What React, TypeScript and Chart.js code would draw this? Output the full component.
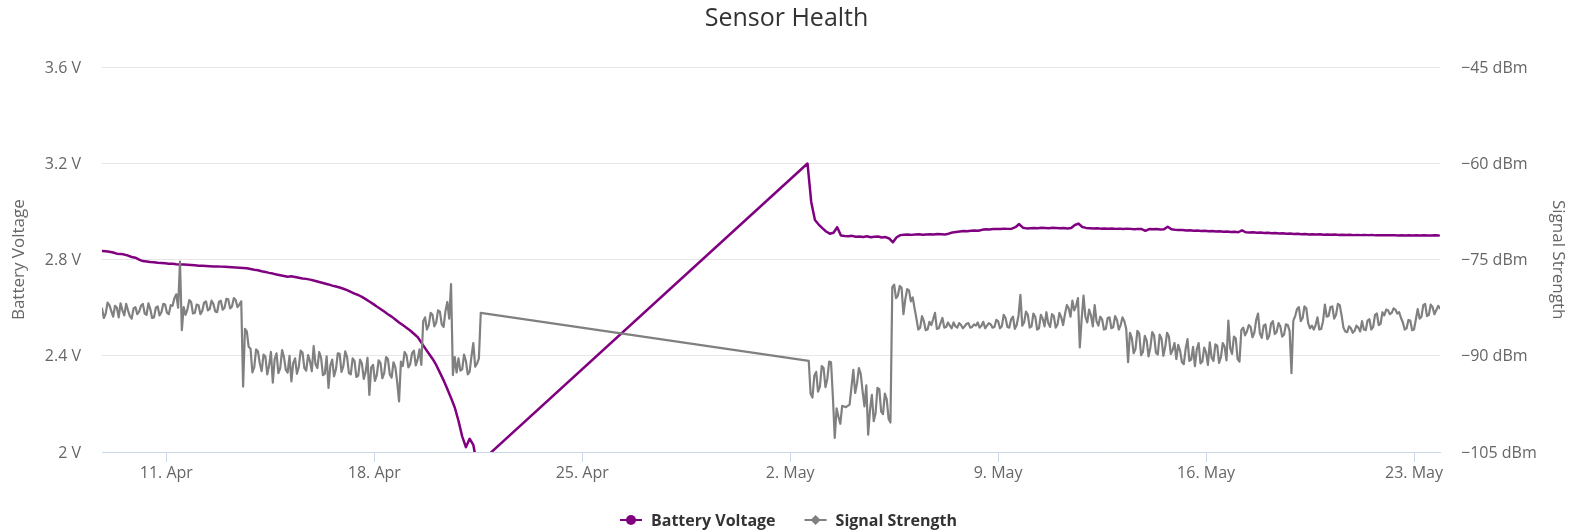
import React, { useEffect, useRef } from 'react';
import { Chart, registerables } from 'chart.js';

Chart.register(...registerables);

const CHART_TITLE = 'Sensor Health';
const HOUR_MS = 3600 * 1000;
const BATTERY_SAMPLE_HOURS = 3;
const SIGNAL_SAMPLE_HOURS = 1.5;

// Battery voltage (V), sampled every 3 hours
const batteryStart1 = Date.UTC(2023, 3, 8, 20);
const batteryValues1 = [
  2.836, 2.835, 2.833, 2.830, 2.825, 2.824, 2.821, 2.817, 2.811, 2.808,
  2.800, 2.794, 2.792, 2.790, 2.789, 2.787, 2.786, 2.785, 2.783, 2.783,
  2.781, 2.780, 2.780, 2.779, 2.778, 2.777, 2.775, 2.775, 2.774, 2.773,
  2.772, 2.772, 2.771, 2.770, 2.769, 2.768, 2.767, 2.766, 2.765, 2.764,
  2.761, 2.758, 2.756, 2.752, 2.749, 2.745, 2.742, 2.738, 2.735, 2.732,
  2.729, 2.731, 2.728, 2.725, 2.722, 2.720, 2.717, 2.713, 2.709, 2.705,
  2.701, 2.697, 2.692, 2.688, 2.684, 2.679, 2.673, 2.666, 2.659, 2.653,
  2.645, 2.636, 2.626, 2.616, 2.605, 2.595, 2.584, 2.573, 2.563, 2.551,
  2.539, 2.528, 2.517, 2.505, 2.492, 2.478, 2.455, 2.432, 2.410, 2.388,
  2.362, 2.330, 2.298, 2.262, 2.225, 2.185, 2.130, 2.065, 2.020, 2.055,
  2.030, 1.945,
];
const batteryStart2 = Date.UTC(2023, 4, 2, 14);
const batteryValues2 = [
  3.200, 3.040, 2.965, 2.946, 2.931, 2.917, 2.908, 2.912, 2.935, 2.900,
  2.898, 2.897, 2.899, 2.895, 2.896, 2.894, 2.897, 2.893, 2.895, 2.896,
  2.892, 2.894, 2.888, 2.872, 2.893, 2.902, 2.904, 2.905, 2.903, 2.905,
  2.906, 2.904, 2.905, 2.906, 2.905, 2.907, 2.906, 2.905, 2.908, 2.913,
  2.915, 2.917, 2.919, 2.918, 2.920, 2.921, 2.920, 2.924, 2.926, 2.925,
  2.927, 2.928, 2.927, 2.929, 2.928, 2.929, 2.935, 2.948, 2.933, 2.930,
  2.931, 2.932, 2.931, 2.933, 2.932, 2.931, 2.933, 2.932, 2.931, 2.932,
  2.930, 2.932, 2.944, 2.950, 2.936, 2.932, 2.931, 2.930, 2.931, 2.929,
  2.930, 2.929, 2.930, 2.928, 2.929, 2.927, 2.929, 2.928, 2.926, 2.928,
  2.927, 2.920, 2.927, 2.926, 2.927, 2.925, 2.926, 2.937, 2.926, 2.924,
  2.923, 2.923, 2.921, 2.922, 2.920, 2.921, 2.919, 2.920, 2.918, 2.919,
  2.917, 2.918, 2.916, 2.917, 2.915, 2.916, 2.914, 2.922, 2.914, 2.913,
  2.914, 2.912, 2.913, 2.911, 2.912, 2.910, 2.911, 2.909, 2.910, 2.908,
  2.909, 2.907, 2.908, 2.906, 2.907, 2.905, 2.906, 2.905, 2.906, 2.904,
  2.905, 2.904, 2.905, 2.903, 2.904, 2.903, 2.904, 2.902, 2.903, 2.902,
  2.903, 2.902, 2.903, 2.901, 2.902, 2.901, 2.902, 2.901, 2.902, 2.900,
  2.901, 2.900, 2.901, 2.900, 2.901, 2.900, 2.901, 2.900, 2.900, 2.901,
  2.900,
];

// Signal strength (dBm), sampled every 1.5 hours
const signalStart1 = Date.UTC(2023, 3, 8, 20);
const signalValues1 = [
  -82.6, -84.1, -83.4, -81.7, -82.1, -83.0, -83.9, -82.2, -82.5, -84.0,
  -81.8, -82.9, -83.7, -81.9, -82.9, -83.8, -84.2, -82.6, -82.4, -83.5,
  -83.1, -82.2, -81.9, -83.4, -83.6, -81.8, -82.7, -84.1, -84.0, -82.5,
  -82.3, -83.7, -83.2, -81.9, -82.0, -83.3, -83.5, -82.1, -82.2, -81.0,
  -80.4, -82.5, -75.3, -86.0, -82.4, -83.6,
  -82.8, -81.3, -81.6, -83.4, -83.3, -82.0, -82.1, -83.5, -83.0, -81.7,
  -81.5, -82.9, -82.7, -81.4, -81.9, -83.1, -83.2, -81.6, -81.4, -82.8,
  -82.5, -81.1, -81.2, -82.6, -82.3, -81.0, -81.3, -82.4, -82.0, -81.5,
  -94.8, -85.8, -86.2, -88.6,
  -88.9, -92.6, -91.8, -89.0, -89.3, -91.2, -92.4, -89.8, -90.1, -92.9,
  -91.5, -89.4, -94.2, -90.5, -89.6, -92.7, -91.9, -89.1, -90.2, -92.2,
  -92.6, -90.0, -94.0, -91.1, -90.4, -92.8, -91.7, -89.2, -89.5, -91.9,
  -92.3, -89.9, -90.8, -92.4, -88.5, -91.3, -91.9, -89.4, -90.3, -93.0,
  -92.8, -90.1, -95.0, -91.5, -90.6, -93.2, -92.1, -89.6, -89.7, -92.5,
  -91.6, -89.3, -90.2, -92.7, -92.9, -90.4, -90.8, -93.3, -93.1, -90.6,
  -91.2, -93.6, -92.5, -90.3, -96.1, -91.8, -91.4, -93.9, -93.0, -90.7,
  -91.1, -93.5, -92.7, -90.2, -90.5, -92.9, -93.4, -91.0, -91.8, -94.1,
  -97.1, -90.9, -91.6, -89.4, -89.9, -91.8, -91.3, -89.6, -89.2, -91.5,
  -90.6, -89.0, -91.4, -84.6,
  -84.0, -85.9, -85.2, -83.3, -83.6, -85.4, -84.8, -82.9, -83.1, -85.1,
  -85.5, -83.0, -81.6, -84.2, -78.8,
  -93.0, -90.2, -92.6, -90.4, -92.3, -92.1, -89.8, -90.8, -92.9, -92.5,
  -90.1, -88.0, -91.7, -91.2, -90.4, -83.3,
];
const signalStart2 = Date.UTC(2023, 4, 2, 15);
const signalValues2 = [
  -90.8, -95.9, -96.5, -93.1, -92.5, -95.6, -94.8, -91.6, -91.9, -94.9,
  -93.6, -90.9, -91.0, -96.4, -102.8, -98.2, -99.5, -100.6, -97.8, -97.9,
  -98.0, -97.8, -97.6, -94.9, -92.2, -95.8, -94.3, -91.9, -92.8, -95.5,
  -97.9, -94.6, -102.3, -98.4, -96.1, -100.2, -98.9, -95.0, -95.2, -98.7,
  -99.1, -95.9, -96.8, -99.8, -100.4, -79.3, -78.9, -81.0, -80.6, -79.1,
  -79.4, -83.5, -81.2, -79.6, -79.8, -81.5, -80.9, -82.6, -84.2, -85.9,
  -85.6, -83.8, -84.6, -86.0, -85.9, -84.7, -85.2, -84.3, -83.3, -85.8,
  -85.7, -84.9, -84.1, -85.6, -85.5, -84.8, -85.3, -85.7, -84.8, -85.4,
  -85.6, -84.9, -85.2, -85.7, -85.4, -85.0, -84.9, -85.6, -85.5, -85.1,
  -85.3, -84.8, -85.6, -85.3, -84.7, -85.7, -85.3, -84.9, -85.1, -85.6,
  -85.5, -84.4, -84.6, -85.7, -85.4, -83.6, -84.1, -85.5, -85.6, -84.3,
  -83.9, -85.8, -85.2, -83.7, -80.5, -85.3, -84.8, -83.1, -83.6, -85.6,
  -85.4, -83.4, -83.9, -85.9, -85.7, -83.6, -84.2, -85.4, -83.2, -84.9,
  -85.5, -83.5, -83.8, -85.6, -85.1, -83.3, -84.0, -85.2, -83.5, -82.1,
  -82.6, -83.9, -81.4, -82.9, -82.2, -81.0, -88.7, -84.2, -80.6, -83.9,
  -84.8, -82.8, -83.7, -85.4, -82.1, -84.6, -85.3, -83.9, -84.3, -85.9,
  -85.8, -84.1, -84.0, -85.7, -85.5, -83.8, -84.4, -85.9, -85.2, -84.0,
  -84.6, -85.8, -91.0, -86.4, -87.2, -89.6, -88.9, -86.1, -86.5, -89.9,
  -89.4, -86.9, -87.6, -90.1, -88.7, -86.3, -86.8, -89.5, -89.8, -86.7,
  -87.3, -90.0, -88.6, -86.4, -87.0, -89.7, -89.1, -88.0, -90.5, -88.3,
  -89.2, -91.0, -91.3, -88.9, -87.4, -90.8, -90.6, -88.6, -91.6, -89.0,
  -88.0, -91.2, -90.9, -88.7, -89.5, -91.4, -87.9, -90.3, -90.8, -88.2,
  -88.4, -91.1, -90.2, -88.0, -88.6, -90.7, -84.5, -88.8, -89.7, -87.0,
  -87.3, -90.5, -90.9, -86.0, -85.6, -86.8, -86.2, -85.2, -85.5, -87.1,
  -86.4, -84.4, -83.4, -86.5, -87.2, -85.3, -85.1, -87.4, -86.9, -85.0,
  -84.6, -86.6, -86.3, -84.9, -85.4, -87.0, -86.7, -85.1, -85.2, -86.1,
  -92.7, -84.5, -83.8, -82.7, -82.4, -84.6, -84.1, -82.3, -82.6, -84.9,
  -85.7, -85.3, -85.9, -85.2, -84.0, -85.9, -85.8, -84.6, -82.0, -83.9,
  -83.8, -82.4, -82.3, -84.2, -83.6, -81.9, -82.1, -83.7, -85.6, -86.2,
  -86.3, -85.4, -85.7, -86.4, -86.1, -85.3, -85.6, -86.2, -84.6, -85.9,
  -86.0, -84.5, -84.3, -85.9, -85.5, -83.6, -83.4, -85.2, -85.0, -83.2,
  -83.7, -82.8, -82.9, -83.5, -83.3, -82.6, -82.8, -83.4, -83.2, -84.1,
  -84.8, -85.9, -85.7, -84.4, -84.5, -86.0, -85.9, -84.3, -82.7, -84.2,
  -83.9, -82.1, -81.9, -83.8, -83.6, -82.0, -82.4, -83.5, -82.9, -82.2,
  -82.6,
];

// Axis ticks
const xTickDates = [
  Date.UTC(2023, 3, 11), Date.UTC(2023, 3, 18), Date.UTC(2023, 3, 25),
  Date.UTC(2023, 4, 2), Date.UTC(2023, 4, 9), Date.UTC(2023, 4, 16), Date.UTC(2023, 4, 23),
];
const xTickLabels = ['11. Apr', '18. Apr', '25. Apr', '2. May', '9. May', '16. May', '23. May'];
const voltTicks = [2, 2.4, 2.8, 3.2, 3.6];
const voltTickLabels = ['2 V', '2.4 V', '2.8 V', '3.2 V', '3.6 V'];
const dbmTicks = [-105, -90, -75, -60, -45];
const dbmTickLabels = ['−105 dBm', '−90 dBm', '−75 dBm', '−60 dBm', '−45 dBm'];

const seriesNames = ['Battery Voltage', 'Signal Strength'];
const seriesColors = ['#800080', '#808080'];
const seriesMarkers = ['circle', 'diamond'];

const FONT = '"Open Sans", "Noto Sans", sans-serif';

function toPoints(start: number, stepHours: number, values: number[]) {
  return values.map((v, i) => ({ x: start + i * stepHours * HOUR_MS, y: v }));
}

const legendPlugin = {
  id: 'bottomLegend',
  afterDraw(chart: any) {
    const ctx = chart.ctx as CanvasRenderingContext2D;
    const datasets = chart.data.datasets;
    ctx.save();
    ctx.font = `bold 16px ${FONT}`;
    const symW = 22;
    const symPad = 9;
    const gap = 29;
    const widths = datasets.map((d: any) => ctx.measureText(d.label).width);
    const total = widths.reduce((a: number, w: number) => a + symW + symPad + w, 0) + gap * (datasets.length - 1);
    let x = chart.width / 2 - total / 2 + 2;
    const yMid = 520;
    const yBase = 526;
    datasets.forEach((d: any, i: number) => {
      const color = d.borderColor;
      ctx.strokeStyle = color;
      ctx.fillStyle = color;
      ctx.lineWidth = 2;
      ctx.beginPath();
      ctx.moveTo(x, yMid);
      ctx.lineTo(x + symW, yMid);
      ctx.stroke();
      const cx = x + symW / 2;
      ctx.beginPath();
      if (d.pointStyle === 'diamond') {
        ctx.moveTo(cx, yMid - 5);
        ctx.lineTo(cx + 5, yMid);
        ctx.lineTo(cx, yMid + 5);
        ctx.lineTo(cx - 5, yMid);
        ctx.closePath();
      } else {
        ctx.arc(cx, yMid, 5, 0, Math.PI * 2);
      }
      ctx.fill();
      ctx.fillStyle = '#333333';
      ctx.textBaseline = 'alphabetic';
      ctx.textAlign = 'left';
      ctx.fillText(d.label, x + symW + symPad, yBase);
      x += symW + symPad + widths[i] + gap;
    });
    ctx.restore();
  },
};

export default function App() {
  const canvasRef = useRef<HTMLCanvasElement | null>(null);

  useEffect(() => {
    if (!canvasRef.current) return;
    const batteryData = [
      ...toPoints(batteryStart1, BATTERY_SAMPLE_HOURS, batteryValues1),
      ...toPoints(batteryStart2, BATTERY_SAMPLE_HOURS, batteryValues2),
    ];
    const signalData = [
      ...toPoints(signalStart1, SIGNAL_SAMPLE_HOURS, signalValues1),
      ...toPoints(signalStart2, SIGNAL_SAMPLE_HOURS, signalValues2),
    ];
    const xMin = Math.min(batteryData[0].x, signalData[0].x);
    const xMax = Math.max(batteryData[batteryData.length - 1].x, signalData[signalData.length - 1].x);

    const chart = new Chart(canvasRef.current, {
      type: 'line',
      data: {
        datasets: [
          {
            label: seriesNames[0],
            data: batteryData,
            borderColor: seriesColors[0],
            backgroundColor: seriesColors[0],
            borderWidth: 2.5,
            pointRadius: 0,
            pointHoverRadius: 0,
            pointStyle: seriesMarkers[0],
            tension: 0,
            borderJoinStyle: 'round',
            borderCapStyle: 'round',
            yAxisID: 'yV',
            order: 1,
          },
          {
            label: seriesNames[1],
            data: signalData,
            borderColor: seriesColors[1],
            backgroundColor: seriesColors[1],
            borderWidth: 2.2,
            pointRadius: 0,
            pointHoverRadius: 0,
            pointStyle: seriesMarkers[1],
            tension: 0,
            borderJoinStyle: 'round',
            borderCapStyle: 'round',
            yAxisID: 'yS',
            order: 0,
          },
        ],
      },
      options: {
        animation: false,
        responsive: true,
        maintainAspectRatio: false,
        parsing: false,
        normalized: true,
        layout: { padding: 0, autoPadding: false },
        plugins: {
          legend: { display: false },
          tooltip: { enabled: false },
          title: {
            display: true,
            text: CHART_TITLE,
            color: '#333333',
            font: { family: FONT, size: 25, weight: 'normal' },
            padding: { top: 4, bottom: 33.3 },
          },
        },
        scales: {
          x: {
            type: 'linear',
            min: xMin,
            max: xMax,
            afterBuildTicks: (scale: any) => {
              scale.ticks = xTickDates.map((v) => ({ value: v }));
            },
            afterFit: (scale: any) => {
              scale.height = 80;
              scale.paddingLeft = 0;
              scale.paddingRight = 0;
            },
            ticks: {
              autoSkip: false,
              maxRotation: 0,
              minRotation: 0,
              padding: 2,
              color: '#666666',
              font: { family: FONT, size: 16 },
              callback: (_v: any, i: number) => xTickLabels[i],
            },
            grid: {
              display: true,
              drawOnChartArea: false,
              drawTicks: true,
              tickLength: 10,
              color: '#ccd6eb',
              lineWidth: 1,
            },
            border: { display: true, color: '#ccd6eb', width: 1 },
          },
          yV: {
            type: 'linear',
            position: 'left',
            min: 2,
            max: 3.6,
            afterBuildTicks: (scale: any) => {
              scale.ticks = voltTicks.map((v) => ({ value: v }));
            },
            afterFit: (scale: any) => {
              scale.width = 102;
            },
            ticks: {
              padding: 21,
              labelOffset: 1,
              color: '#666666',
              font: { family: FONT, size: 16 },
              callback: (_v: any, i: number) => voltTickLabels[i],
            },
            grid: { color: '#e6e6e6', lineWidth: 1, drawTicks: false },
            border: { display: false },
            title: {
              display: true,
              text: seriesNames[0],
              color: '#666666',
              font: { family: FONT, size: 17 },
              padding: { top: 8.8, bottom: 0 },
            },
          },
          yS: {
            type: 'linear',
            position: 'right',
            min: -105,
            max: -45,
            afterBuildTicks: (scale: any) => {
              scale.ticks = dbmTicks.map((v) => ({ value: v }));
            },
            afterFit: (scale: any) => {
              scale.width = 133;
            },
            ticks: {
              padding: 21,
              labelOffset: 1,
              crossAlign: 'near',
              color: '#666666',
              font: { family: FONT, size: 16 },
              callback: (_v: any, i: number) => dbmTickLabels[i],
            },
            grid: { display: false, drawTicks: false },
            border: { display: false },
            title: {
              display: true,
              text: seriesNames[1],
              color: '#666666',
              font: { family: FONT, size: 17 },
              padding: { top: 5, bottom: 0 },
            },
          },
        },
      },
      plugins: [legendPlugin],
    } as any);

    return () => chart.destroy();
  }, []);

  return (
    <div style={{ position: 'absolute', left: 0, top: 0, width: 1573, height: 532, background: '#ffffff' }}>
      <canvas ref={canvasRef} />
    </div>
  );
}
